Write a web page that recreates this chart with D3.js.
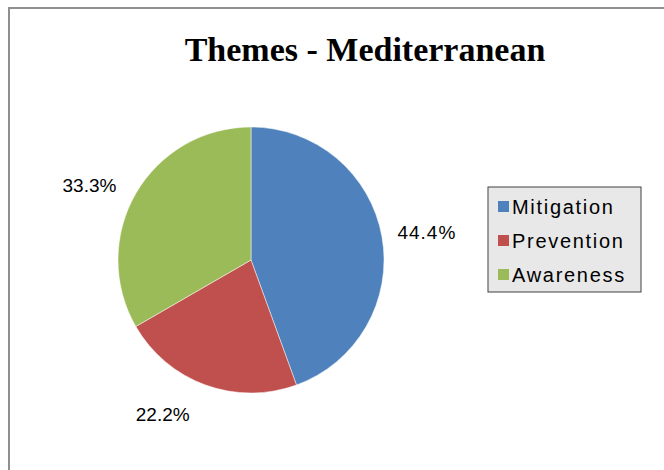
<!DOCTYPE html>
<html>
<head>
<meta charset="utf-8">
<script src="https://cdn.jsdelivr.net/npm/d3@7"></script>
<style>
  html, body { margin: 0; padding: 0; background: #ffffff; }
  svg { display: block; }
</style>
</head>
<body>
<svg id="chart" width="664" height="470"></svg>
<script>
// Share of themes in the Mediterranean region (percent)
const categories = ["Mitigation", "Prevention", "Awareness"];
const shares = [44.4, 22.2, 33.3];
const colors = ["#4F81BD", "#C0504D", "#9BBB59"];
const chartTitle = "Themes - Mediterranean";

const svg = d3.select("#chart");
const W = 664, H = 470;

// Chart frame (extends past the right and bottom edges)
svg.append("rect")
  .attr("x", 9).attr("y", 8)
  .attr("width", W + 20).attr("height", H + 20)
  .attr("fill", "#ffffff")
  .attr("stroke", "#8f8f8f")
  .attr("stroke-width", 2);

// Title
svg.append("text")
  .attr("x", 365).attr("y", 61)
  .attr("text-anchor", "middle")
  .style("font-family", "'Liberation Serif', 'Times New Roman', serif")
  .style("font-weight", "bold")
  .style("font-size", "34px")
  .attr("fill", "#000")
  .text(chartTitle);

// Pie
const cx = 251, cy = 260, R = 133;
const data = categories.map((c, i) => ({ name: c, value: shares[i], color: colors[i] }));
const pie = d3.pie().sort(null).value(d => d.value);
const arcs = pie(data);
const arc = d3.arc().innerRadius(0).outerRadius(R);

const g = svg.append("g").attr("transform", `translate(${cx},${cy})`);
g.selectAll("path.slice")
  .data(arcs)
  .enter().append("path")
  .attr("class", "slice")
  .attr("d", arc)
  .attr("fill", d => d.data.color)
  .attr("stroke", "#ffffff")
  .attr("stroke-opacity", 0.6)
  .attr("stroke-width", 0.8);

// Percentage labels placed outside each slice
const labelR = 178;
const angleShift = [0.02, 0.17, -0.09]; // radians, keeps labels clear of the rim
g.selectAll("text.pct")
  .data(arcs)
  .enter().append("text")
  .attr("class", "pct")
  .attr("x", (d, i) => labelR * Math.sin((d.startAngle + d.endAngle) / 2 + angleShift[i]))
  .attr("y", (d, i) => -labelR * Math.cos((d.startAngle + d.endAngle) / 2 + angleShift[i]))
  .attr("text-anchor", "middle")
  .attr("dominant-baseline", "central")
  .style("font-family", "'Liberation Sans', Arial, sans-serif")
  .style("font-size", "19px")
  .style("letter-spacing", (d, i) => i === 0 ? "1px" : "0px")
  .attr("fill", "#000")
  .text(d => d3.format(".1f")(d.data.value) + "%");

// Legend
const lg = svg.append("g").attr("transform", "translate(488,187)");
lg.append("rect")
  .attr("x", 0).attr("y", 0)
  .attr("width", 153).attr("height", 105)
  .attr("fill", "#e8e8e8")
  .attr("stroke", "#404040")
  .attr("stroke-width", 1);

const rowY = d3.scalePoint().domain(categories).range([20, 88]);
const items = lg.selectAll("g.item")
  .data(data)
  .enter().append("g")
  .attr("class", "item")
  .attr("transform", d => `translate(0,${rowY(d.name)})`);
items.append("rect")
  .attr("x", 10).attr("y", -6)
  .attr("width", 11).attr("height", 11)
  .attr("fill", d => d.color);
items.append("text")
  .attr("x", 24).attr("y", 0)
  .attr("dominant-baseline", "central")
  .style("font-family", "'Liberation Sans', Arial, sans-serif")
  .style("font-size", "20px")
  .style("letter-spacing", "1.7px")
  .attr("fill", "#000")
  .text(d => d.name);
</script>
</body>
</html>
